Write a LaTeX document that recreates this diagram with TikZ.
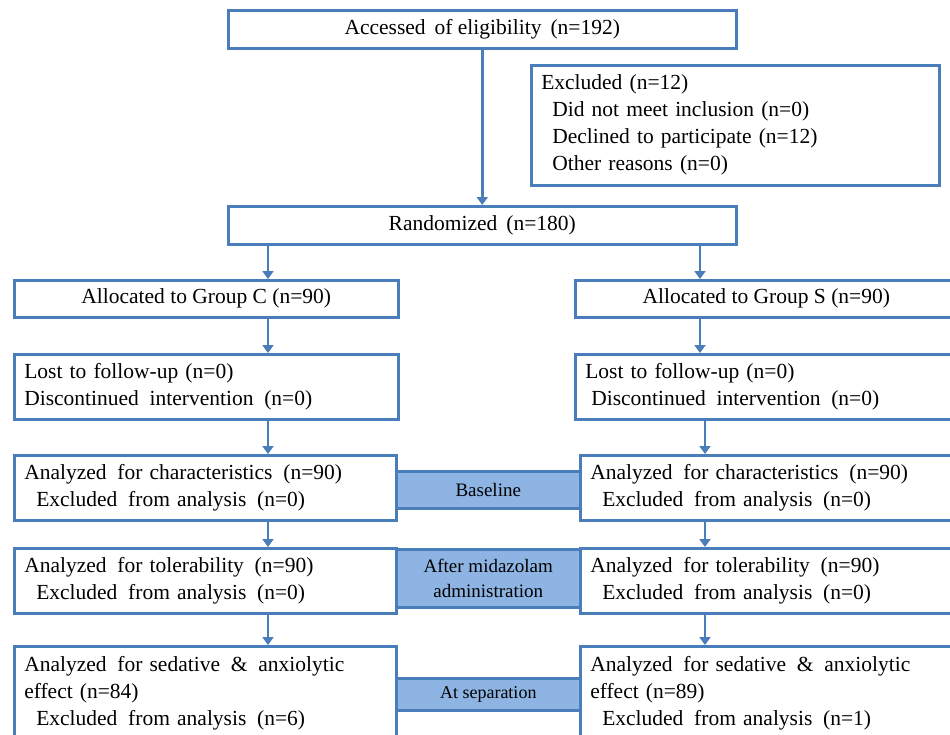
\documentclass[tikz,border=0pt]{standalone}
\usepackage{fontspec}
\setmainfont{Liberation Serif}
\usetikzlibrary{arrows.meta}
\definecolor{boxblue}{RGB}{74,126,187}
\definecolor{tagblue}{RGB}{141,180,227}

\begin{document}
\begin{tikzpicture}[x=1pt, y=-1pt,
    box/.style={draw=boxblue, fill=white, line width=2.5pt, anchor=north west, inner xsep=10pt, inner ysep=0pt, font=\fontsize{21.5}{27}\selectfont},
    leftbox/.style={box, align=left, text width=#1},
    tag/.style={draw=boxblue, fill=tagblue, line width=2.5pt, anchor=north west, inner sep=0pt, align=center, font=\fontsize{19}{25}\selectfont},
    arr/.style={draw=boxblue, line width=2.6pt, -{Triangle[width=11pt,length=8pt]}}]
    \useasboundingbox (0,0) rectangle (950,734);
    \clip (0,0) rectangle (950,734);
    % stage labels between the two arms
    \node[tag, minimum width=184, minimum height=37] (base) at (395,470) {Baseline};
    \node[tag, minimum width=184, minimum height=58] (mida) at (395,548) {After midazolam\\administration};
    \node[tag, minimum width=184, minimum height=32, font=\fontsize{18}{22}\selectfont] (sep) at (395,677) {At separation};
    % top part
    \node[box, minimum width=508, minimum height=38] (acc) at (227,9) {Accessed\, of eligibility\, (n=192)};
    \node[leftbox=388, minimum height=120] (excl) at (530,64) {Excluded (n=12)\\\hspace*{11pt}Did not meet inclusion (n=0)\\\hspace*{11pt}Declined to participate (n=12)\\\hspace*{11pt}Other reasons (n=0)};
    \node[box, minimum width=508, minimum height=38] (rand) at (227,205) {Randomized\, (n=180)};
    % group C
    \node[box, minimum width=384, minimum height=37] (allocC) at (13,279) {Allocated to Group C (n=90)};
    \node[leftbox=364, minimum height=65] (lostC) at (13,353) {Lost to follow-up (n=0)\\Discontinued\, intervention\, (n=0)};
    \node[leftbox=362, minimum height=65] (charC) at (13,454) {Analyzed\, for characteristics\, (n=90)\\\hspace*{12pt}Excluded\, from analysis\, (n=0)};
    \node[leftbox=362, minimum height=65] (tolC) at (13,547) {Analyzed\, for tolerability\, (n=90)\\\hspace*{12pt}Excluded\, from analysis\, (n=0)};
    \node[leftbox=362, minimum height=94] (sedC) at (13,645) {Analyzed\, for sedative\, \&\, anxiolytic\\effect (n=84)\\\hspace*{12pt}Excluded\, from analysis\, (n=6)};
    % group S
    \node[box, minimum width=382, minimum height=37] (allocS) at (574,279) {Allocated to Group S (n=90)};
    \node[leftbox=362, minimum height=65] (lostS) at (574,353) {Lost to follow-up (n=0)\\\hspace*{6pt}Discontinued\, intervention\, (n=0)};
    \node[leftbox=359, minimum height=65] (charS) at (579,454) {Analyzed\, for characteristics\, (n=90)\\\hspace*{12pt}Excluded\, from analysis\, (n=0)};
    \node[leftbox=359, minimum height=65] (tolS) at (579,547) {Analyzed\, for tolerability\, (n=90)\\\hspace*{12pt}Excluded\, from analysis\, (n=0)};
    \node[leftbox=359, minimum height=94] (sedS) at (579,645) {Analyzed\, for sedative\, \&\, anxiolytic\\effect (n=89)\\\hspace*{12pt}Excluded\, from analysis\, (n=1)};
    % arrows
    \coordinate (xl) at (268,0);
    \coordinate (xr) at (700,0);
    \coordinate (xs) at (705,0);
    \draw[arr] (acc.south) -- (rand.north);
    \draw[arr] (rand.south -| xl) -- (allocC.north -| xl);
    \draw[arr] (rand.south -| xr) -- (allocS.north -| xr);
    \draw[arr] (allocC.south -| xl) -- (lostC.north -| xl);
    \draw[arr] (lostC.south -| xl) -- (charC.north -| xl);
    \draw[arr] (charC.south -| xl) -- (tolC.north -| xl);
    \draw[arr] (tolC.south -| xl) -- (sedC.north -| xl);
    \draw[arr] (allocS.south -| xr) -- (lostS.north -| xr);
    \draw[arr] (lostS.south -| xs) -- (charS.north -| xs);
    \draw[arr] (charS.south -| xs) -- (tolS.north -| xs);
    \draw[arr] (tolS.south -| xs) -- (sedS.north -| xs);
\end{tikzpicture}
\end{document}
